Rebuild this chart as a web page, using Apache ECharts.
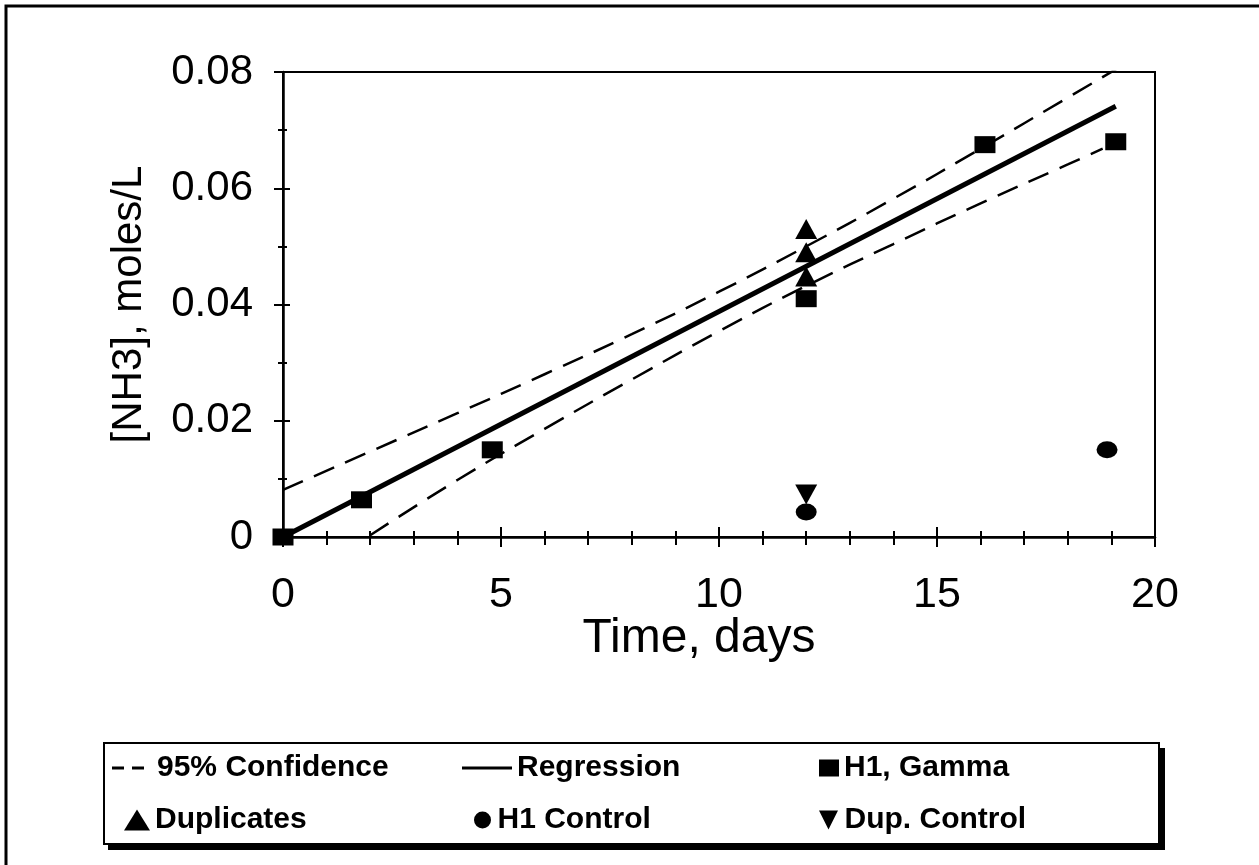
<!DOCTYPE html>
<html>
<head>
<meta charset="utf-8">
<script src="https://cdn.jsdelivr.net/npm/echarts@6/dist/echarts.min.js"></script>
<style>html,body{margin:0;padding:0;background:#fff;}#c{width:1259px;height:865px;}</style>
</head>
<body>
<div id="c"></div>
<script>
// Data
const h1Gamma = [[0, 0], [1.8, 0.0064], [4.8, 0.015], [12, 0.041], [16.1, 0.0675], [19.1, 0.068]];
const duplicates = [[12, 0.053], [12, 0.049], [12, 0.0448]];
const h1Control = [[12, 0.0043], [18.9, 0.015]];
const dupControl = [[12, 0.0073]];
const regression = [[0, 0], [19.1, 0.0741]];
const ciUpper = [[0, 0.0081], [2, 0.0147], [4, 0.0213], [6, 0.028], [8, 0.0349], [10, 0.0422], [12, 0.05], [14, 0.0582], [16, 0.0668], [18, 0.0756], [19.2, 0.0809]];
const ciLower = [[2, 0.0003], [4, 0.0098], [6, 0.0186], [8, 0.0271], [10, 0.0354], [12, 0.0432], [14, 0.0504], [16, 0.0574], [18, 0.0641], [18.8, 0.0668]];
const xTicks = { min: 0, max: 20, step: 5 };
const yTicks = { min: 0, max: 0.08, step: 0.02 };

const F = 'Liberation Sans, Arial, sans-serif';
const chart = echarts.init(document.getElementById('c'), null, { renderer: 'canvas' });

const legendText = { fontFamily: F, fontSize: 30, fontWeight: 'bold', color: '#000' };
function leg(name, left, top, icon, w, h) {
  return { data: [{ name: name, icon: icon }], left: left, top: top, itemWidth: w, itemHeight: h, itemGap: 0,
    textStyle: legendText, selectedMode: false, padding: 0, inactiveColor: '#000',
    itemStyle: { color: '#000', opacity: 1, borderWidth: 0 }, lineStyle: { width: 0 } };
}
const DASH_ICON = 'path://M0,0 L12,0 L12,3 L0,3 Z M20,0 L32,0 L32,3 L20,3 Z';
const DOWN_TRI = 'path://M0,0 L10,0 L5,10 Z';

chart.setOption({
  animation: false,
  backgroundColor: '#fff',
  grid: { left: 283, right: 104, top: 72, bottom: 328, show: true, borderColor: '#000', borderWidth: 2, backgroundColor: 'transparent' },
  xAxis: [{
    type: 'value', min: xTicks.min, max: xTicks.max, interval: xTicks.step,
    axisLine: { show: true, lineStyle: { color: '#000', width: 2.5 } },
    axisTick: { show: true, inside: false, length: 10, lineStyle: { color: '#000', width: 2 } },
    minorTick: { show: true, splitNumber: 5, length: 8, lineStyle: { color: '#000', width: 2 } },
    splitLine: { show: false },
    axisLabel: { fontFamily: F, fontSize: 43, color: '#000', margin: 37 },
    name: 'Time, days', nameLocation: 'middle', nameGap: 78, nameMoveOverlap: false,
    nameTextStyle: { fontFamily: F, fontSize: 48, color: '#000', verticalAlign: 'top', padding: [0, 40, 0, 0] }
  }, {
    type: 'value', min: xTicks.min, max: xTicks.max, interval: xTicks.step, position: 'bottom',
    axisLine: { show: false },
    axisTick: { show: true, inside: true, length: 10, lineStyle: { color: '#000', width: 2 } },
    minorTick: { show: true, splitNumber: 5, length: 6, lineStyle: { color: '#000', width: 2 } },
    splitLine: { show: false }, axisLabel: { show: false }
  }],
  yAxis: [{
    type: 'value', min: yTicks.min, max: yTicks.max, interval: yTicks.step,
    axisLine: { show: true, lineStyle: { color: '#000', width: 2.5 } },
    axisTick: { show: true, inside: false, length: 9, lineStyle: { color: '#000', width: 2 } },
    minorTick: { show: true, splitNumber: 2, length: 5, lineStyle: { color: '#000', width: 2 } },
    splitLine: { show: false },
    axisLabel: { fontFamily: F, fontSize: 42, color: '#000', margin: 30 },
    name: '[NH3], moles/L', nameLocation: 'middle', nameGap: 133, nameRotate: 90, nameMoveOverlap: false,
    nameTextStyle: { fontFamily: F, fontSize: 42, color: '#000' }
  }, {
    type: 'value', min: yTicks.min, max: yTicks.max, interval: yTicks.step, position: 'left',
    axisLine: { show: false },
    axisTick: { show: true, inside: true, length: 7, lineStyle: { color: '#000', width: 2 } },
    minorTick: { show: true, splitNumber: 2, length: 4, lineStyle: { color: '#000', width: 2 } },
    splitLine: { show: false }, axisLabel: { show: false }
  }],
  legend: [
    leg('95% Confidence', 112, 753, DASH_ICON, 48, 3),
    leg('Regression', 462, 753, 'rect', 50, 3),
    leg('H1, Gamma', 819, 753, 'rect', 20, 17),
    leg('Duplicates', 124, 805, 'triangle', 26, 21),
    leg('H1 Control', 474, 805, 'circle', 20, 17),
    leg('Dup. Control', 819, 805, DOWN_TRI, 22, 19)
  ],
  series: [
    { name: '95% Confidence', type: 'line', data: ciUpper, symbol: 'none', smooth: true, clip: true,
      lineStyle: { color: '#000', width: 2.5, type: [22, 12] }, itemStyle: { color: '#000' }, z: 2 },
    { name: '95% Confidence', type: 'line', data: ciLower, symbol: 'none', smooth: true, clip: true,
      lineStyle: { color: '#000', width: 2.5, type: [22, 12] }, itemStyle: { color: '#000' }, z: 2 },
    { name: 'Regression', type: 'line', data: regression, symbol: 'none',
      lineStyle: { color: '#000', width: 5 }, itemStyle: { color: '#000' }, z: 3 },
    { name: 'H1, Gamma', type: 'scatter', data: h1Gamma, symbol: 'rect', symbolSize: [21, 17],
      itemStyle: { color: '#000', opacity: 1 }, z: 5, clip: false },
    { name: 'Duplicates', type: 'scatter', data: duplicates, symbol: 'triangle', symbolSize: [22, 20],
      itemStyle: { color: '#000', opacity: 1 }, z: 5 },
    { name: 'H1 Control', type: 'scatter', data: h1Control, symbol: 'circle', symbolSize: [21, 17],
      itemStyle: { color: '#000', opacity: 1 }, z: 5 },
    { name: 'Dup. Control', type: 'scatter', data: dupControl, symbol: DOWN_TRI, symbolSize: [22, 20],
      itemStyle: { color: '#000', opacity: 1 }, z: 5 }
  ],
  graphic: [
    { type: 'polyline', shape: { points: [[6, 865], [6, 6], [1259, 6]] }, style: { stroke: '#000', lineWidth: 3, fill: null }, silent: true },
    { type: 'rect', shape: { x: 104, y: 743, width: 1055, height: 101 }, style: { stroke: '#000', lineWidth: 2, fill: null }, silent: true },
    { type: 'polyline', shape: { points: [[108, 847], [1162, 847], [1162, 748]] }, style: { stroke: '#000', lineWidth: 6, fill: null }, silent: true }
  ]
});
</script>
</body>
</html>
